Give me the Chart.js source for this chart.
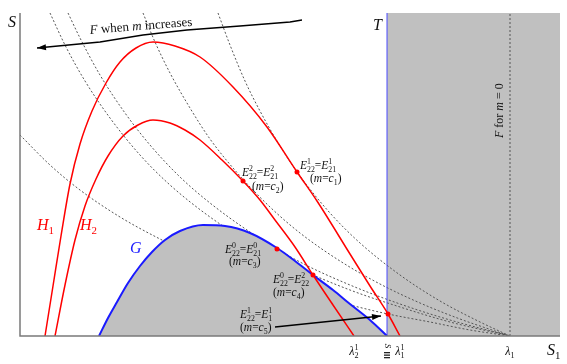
<!DOCTYPE html>
<html>
<head>
<meta charset="utf-8">
<script src="https://cdn.jsdelivr.net/npm/chart.js@4.4.0/dist/chart.umd.min.js"></script>
<style>
    html, body { margin: 0; padding: 0; background: #fff; }
    #contenedor { width: 567px; height: 364px; }
</style>
</head>
<body>
<div id="contenedor"><canvas id="grafico" width="567" height="364"></canvas></div>
<script>
// Curvas: pares [S1, S].
const curvaH1 = [[25, 0], [33, 50], [41, 100], [50, 152], [60, 192], [72, 225], [86, 253], [100, 274], [116, 288], [133, 294], [155, 290], [180, 279], [213, 249], [247, 209], [277, 164], [297, 135], [330, 82], [350, 50], [368, 22], [380, 0]];
const curvaH2 = [[35, 0], [45, 51], [55, 96], [65, 130], [76, 157], [88, 180], [103, 200], [118, 211], [133, 216], [150, 213], [165, 206], [180, 196], [202, 176], [223, 155], [240, 136], [255, 116], [275, 89], [293, 61], [313, 31], [334, 0]];
const curvaG = [[79, 0], [88, 18], [97, 34], [108, 53], [120, 70], [132, 84], [145, 96], [160, 105], [183, 111], [205, 110], [230, 103], [257, 88], [275, 75], [293, 61], [313, 46], [330, 32], [350, 16], [367, 0]];

// Curvas F (punteadas) para m = c1 ... c5 y para m = 0.
const curvaFc1 = [[198, 323], [210, 291], [225, 255], [240, 225], [260, 190], [280, 160], [310, 123], [340, 93], [380, 61], [420, 35], [460, 14], [490, 0]];
const curvaFc2 = [[123, 323], [135, 294], [150, 263], [170, 228], [190, 197], [220, 160], [250, 129], [280, 103], [320, 75], [360, 52], [400, 33], [440, 17], [490, 0]];
const curvaFc3 = [[48, 323], [60, 298], [80, 261], [105, 223], [130, 191], [160, 159], [190, 133], [230, 104], [280, 74], [330, 51], [380, 32], [430, 16], [490, 0]];
const curvaFc4 = [[30, 323], [45, 291], [65, 255], [90, 218], [120, 181], [150, 151], [190, 119], [230, 93], [280, 67], [330, 46], [380, 29], [430, 14], [490, 0]];
const curvaFc5 = [[0, 201], [30, 171], [60, 146], [100, 119], [140, 97], [180, 78], [230, 59], [280, 44], [330, 31], [368, 22], [410, 14], [450, 6], [490, 0]];
const curvaFm0 = [[490, 0], [490, 323]];

// Zona T (a la derecha de S barra) y puntos de equilibrio.
const zonaT = [[367, 323], [540, 323]];
const bordeT = [[367, 0], [367, 323]];
const puntosE = [[277, 164], [223, 155], [257, 87], [293, 61], [368, 22]];

// Marcas del eje S1.
const ticksValor = [334, 380, 490];
const ticksTexto = ['λ_{2}^{1}', 'λ_{1}^{1}', 'λ_{1}'];
const valorSBarra = 367;

const FUENTE = '"Liberation Serif", "DejaVu Serif", serif';

// Etiquetas: [texto, S1, S, tamaño, color].
const etiquetas = [
    ['E_{22}^{1}=E_{21}^{1}', 280, 167, 11.5, '#111'],
    ['(m=c_{1})', 290, 154, 11.5, '#111'],
    ['E_{22}^{2}=E_{21}^{2}', 222, 160, 11.5, '#111'],
    ['(m=c_{2})', 232, 146, 11.5, '#111'],
    ['E_{22}^{0}=E_{21}^{0}', 205, 83, 11.5, '#111'],
    ['(m=c_{3})', 209, 71, 11.5, '#111'],
    ['E_{22}^{0}=E_{22}^{2}', 253, 53, 11.5, '#111'],
    ['(m=c_{4})', 253, 40, 11.5, '#111'],
    ['E_{22}^{1}=E_{1}^{1}', 220, 18, 11.5, '#111'],
    ['(m=c_{5})', 220, 5, 11.5, '#111'],
    ['H_{1}', 17, 106, 16, '#f00'],
    ['H_{2}', 60, 106, 16, '#f00'],
    ['G', 110, 83, 16, '#1a1aff'],
    ['S', -12, 309, 16, '#111'],
    ['T', 353, 306, 16, '#111'],
    ['S_{1}', 527, -19, 16, '#111']
];

// Flechas: polilínea en unidades de datos, la punta va en el último punto.
const flechaM = [[282, 316], [270, 314], [220, 310], [167, 306], [123, 301], [80, 294], [17, 288]];
const flechaC5 = [[255, 9], [361, 20]];

const aXY = (arr) => arr.map(([x, y]) => ({ x, y }));

/*
*   Escribe texto con subíndices y superíndices.
*   _{..} subíndice, ^{..} superíndice, {..} texto recto; las letras sueltas van en cursiva.
*   Retorna el ancho ocupado.
*/
const escribir = (ctx, str, x, y, size, color, dibujar = true) => {
    const tokens = [];
    for (let i = 0; i < str.length;) {
        const ch = str[i];
        if ((ch === '_' || ch === '^') && str[i + 1] === '{') {
            const fin = str.indexOf('}', i);
            tokens.push({ t: str.slice(i + 2, fin), m: ch, recto: true });
            i = fin + 1;
        } else if (ch === '{') {
            const fin = str.indexOf('}', i);
            tokens.push({ t: str.slice(i + 1, fin), m: '', recto: true });
            i = fin + 1;
        } else {
            tokens.push({ t: ch, m: '', recto: !/[A-Za-zλ]/.test(ch) });
            i++;
        }
    }
    let cx = x, inicio = 0, anchoPrev = 0, prevM = '';
    ctx.fillStyle = color;
    ctx.textAlign = 'left';
    ctx.textBaseline = 'alphabetic';
    tokens.forEach(tok => {
        const script = tok.m !== '';
        const s = script ? size * 0.68 : size;
        ctx.font = `${tok.recto ? '' : 'italic '}${s}px ${FUENTE}`;
        const w = ctx.measureText(tok.t).width;
        const apilar = script && prevM && prevM !== tok.m;
        const px = apilar ? inicio : cx;
        const dy = tok.m === '_' ? size * 0.28 : (tok.m === '^' ? -size * 0.42 : 0);
        if (dibujar) ctx.fillText(tok.t, px, y + dy);
        if (apilar) {
            cx = inicio + Math.max(anchoPrev, w);
            prevM = '';
        } else if (script) {
            inicio = px; anchoPrev = w; cx = px + w; prevM = tok.m;
        } else {
            cx = px + w; prevM = '';
        }
    });
    return cx - x;
};

// Dibuja una flecha sobre una polilínea en píxeles.
const flecha = (ctx, pts) => {
    ctx.beginPath();
    ctx.moveTo(pts[0][0], pts[0][1]);
    pts.slice(1).forEach(p => ctx.lineTo(p[0], p[1]));
    ctx.strokeStyle = '#000';
    ctx.lineWidth = 1.3;
    ctx.stroke();
    const [x1, y1] = pts[pts.length - 2];
    const [x2, y2] = pts[pts.length - 1];
    const ang = Math.atan2(y2 - y1, x2 - x1);
    ctx.beginPath();
    ctx.moveTo(x2, y2);
    ctx.lineTo(x2 - 9 * Math.cos(ang) + 3 * Math.sin(ang), y2 - 9 * Math.sin(ang) - 3 * Math.cos(ang));
    ctx.lineTo(x2 - 9 * Math.cos(ang) - 3 * Math.sin(ang), y2 - 9 * Math.sin(ang) + 3 * Math.cos(ang));
    ctx.closePath();
    ctx.fillStyle = '#000';
    ctx.fill();
};

// Plugin para ejes, flechas y textos.
const dibujoPlugin = {
    id: 'dibujo',
    afterDraw(chart) {
        const ctx = chart.ctx;
        const X = chart.scales.x, Y = chart.scales.y;
        const px = (v) => X.getPixelForValue(v);
        const py = (v) => Y.getPixelForValue(v);
        ctx.save();

        // Ejes.
        ctx.strokeStyle = '#7a7a7a';
        ctx.lineWidth = 1.5;
        ctx.beginPath();
        ctx.moveTo(px(0), py(323));
        ctx.lineTo(px(0), py(0));
        ctx.lineTo(px(540), py(0));
        ctx.stroke();

        // Flechas.
        flecha(ctx, flechaM.map(([a, b]) => [px(a), py(b)]));
        flecha(ctx, flechaC5.map(([a, b]) => [px(a), py(b)]));

        // Etiquetas.
        etiquetas.forEach(([txt, a, b, s, c]) => escribir(ctx, txt, px(a), py(b), s, c));

        // Texto inclinado sobre la flecha.
        ctx.save();
        ctx.translate(px(70), py(302));
        ctx.rotate(-4.6 * Math.PI / 180);
        escribir(ctx, 'F{ when }m{ increases}', 0, 0, 13, '#111');
        ctx.restore();

        // Texto vertical de F para m = 0.
        ctx.save();
        ctx.translate(px(483), py(198));
        ctx.rotate(-Math.PI / 2);
        escribir(ctx, 'F{ for }m{ = 0}', 0, 0, 12, '#111');
        ctx.restore();

        // Marcas del eje S1.
        ticksValor.forEach((v, i) => {
            const w = escribir(ctx, ticksTexto[i], 0, 0, 12, '#111', false);
            escribir(ctx, ticksTexto[i], px(v) - w / 2, py(0) + 19, 12, '#111');
        });

        // S barra (girada) bajo el borde de T.
        ctx.save();
        ctx.translate(px(valorSBarra), py(0) + 10);
        ctx.rotate(Math.PI / 2);
        ctx.font = `italic 9px ${FUENTE}`;
        ctx.fillStyle = '#111';
        ctx.textAlign = 'center';
        ctx.textBaseline = 'middle';
        ctx.fillText('S', 0, 0);
        ctx.restore();
        ctx.fillStyle = '#222';
        ctx.fillRect(px(valorSBarra) - 3, py(0) + 16, 6, 1.3);
        ctx.fillRect(px(valorSBarra) - 3, py(0) + 18.5, 6, 1.3);
        ctx.fillRect(px(valorSBarra) - 3, py(0) + 21, 6, 1.3);

        ctx.restore();
    }
};

// Construye un conjunto de datos de línea (curva suave monótona en S1).
const linea = (datos, color, ancho, extra) => Object.assign({
    data: aXY(datos),
    showLine: true,
    borderColor: color,
    borderWidth: ancho,
    pointRadius: 0,
    cubicInterpolationMode: 'monotone',
    fill: false
}, extra);

const punteada = { borderDash: [2, 2], order: 5 };

new Chart(document.getElementById('grafico'), {
    type: 'scatter',
    data: {
        datasets: [
            linea(zonaT, 'rgba(0,0,0,0)', 0, { fill: 'origin', backgroundColor: '#c0c0c0', cubicInterpolationMode: 'default', tension: 0, order: 10 }),
            linea(curvaG, '#1a1aff', 2, { fill: 'origin', backgroundColor: '#c0c0c0', order: 3 }),
            linea(bordeT, '#4a4aff', 1, { cubicInterpolationMode: 'default', tension: 0, order: 3 }),
            linea(curvaFc1, '#555', 1, punteada),
            linea(curvaFc2, '#555', 1, punteada),
            linea(curvaFc3, '#555', 1, punteada),
            linea(curvaFc4, '#555', 1, punteada),
            linea(curvaFc5, '#555', 1, punteada),
            linea(curvaFm0, '#555', 1, { borderDash: [2, 2], cubicInterpolationMode: 'default', tension: 0, order: 5 }),
            linea(curvaH1, '#f00', 1.5, { order: 2 }),
            linea(curvaH2, '#f00', 1.5, { order: 2 }),
            {
                data: aXY(puntosE),
                showLine: false,
                pointRadius: 2.5,
                pointBackgroundColor: '#f00',
                pointBorderWidth: 0,
                order: 0
            }
        ]
    },
    options: {
        responsive: false,
        animation: false,
        events: [],
        layout: { padding: { left: 20, right: 7, top: 13, bottom: 28 } },
        scales: {
            x: { type: 'linear', min: 0, max: 540, display: false },
            y: { type: 'linear', min: 0, max: 323, display: false }
        },
        plugins: {
            legend: { display: false },
            tooltip: { enabled: false }
        }
    },
    plugins: [dibujoPlugin]
});
</script>
</body>
</html>
